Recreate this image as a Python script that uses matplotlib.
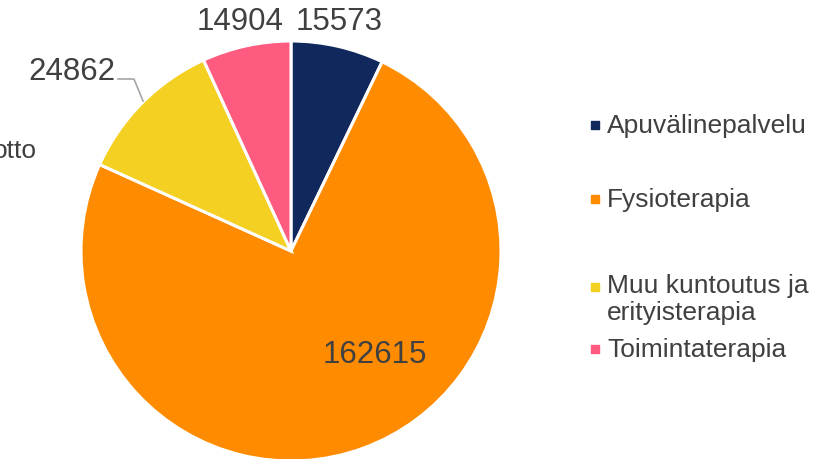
import matplotlib.pyplot as plt

plt.rcParams['font.family'] = ['Liberation Sans', 'DejaVu Sans']

categories = ['Apuvälinepalvelu', 'Fysioterapia', 'Muu kuntoutus ja\nerityisterapia', 'Toimintaterapia']
values = [15573, 162615, 24862, 14904]
colors = ['#10285C', '#FF8B00', '#F3D022', '#FF5B80']
label_xy = [(339, 438), (375, 105), (72, 388), (240, 438)]
legend_y = [334, 260, 172, 110]

fig = plt.figure(figsize=(8.24, 4.6), dpi=100)
ax = fig.add_axes([0, 0, 1, 1])

ax.pie(values, colors=colors, startangle=90, counterclock=False,
       center=(291, 208), radius=210, frame=True,
       wedgeprops=dict(edgecolor='white', linewidth=2.2))
ax.set_xlim(0, 824)
ax.set_ylim(0, 460)
ax.set_aspect('equal')
ax.axis('off')

txtc = '#404040'
for v, (x, y) in zip(values, label_xy):
    ax.text(x, y, str(v), fontsize=22.5, color=txtc, ha='center', va='center')

# leader line for 24862
ax.plot([118, 134, 143], [380, 380, 358], color='#A6A6A6', lw=1.2)

# text cut off at the left edge, as in the source
ax.text(-7, 309, 'otto', fontsize=19, color=txtc, ha='left', va='center')

# legend
for name, c, y in zip(categories, colors, legend_y):
    ax.scatter([595], [y], marker='s', s=40, color=c)
    if '\n' in name:
        ax.text(607, y + 14, name, fontsize=19, color=txtc, ha='left', va='top',
                linespacing=1.15)
    else:
        ax.text(607, y, name, fontsize=19, color=txtc, ha='left', va='center')

fig.savefig('out.png', dpi=100)
